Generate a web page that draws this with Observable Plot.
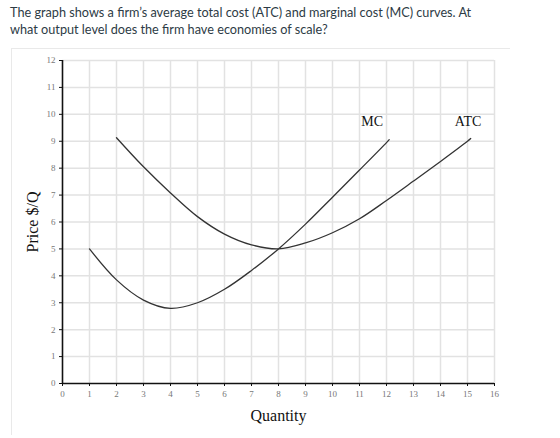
<!DOCTYPE html>
<html>
<head>
<meta charset="utf-8">
<script src="https://cdn.jsdelivr.net/npm/d3@7"></script>
<script src="https://cdn.jsdelivr.net/npm/@observablehq/plot@0.6"></script>
<style>
  html, body { margin: 0; padding: 0; background: #fff; }
  body { width: 560px; height: 438px; position: relative; overflow: hidden; }
  #q { position: absolute; left: 10px; top: 4px; font-family: Lato, sans-serif; font-size: 12.7px; line-height: 16.5px; color: #2d3b45; }
  #frame { position: absolute; left: 11px; top: 48px; width: 498px; height: 386px; border-top: 1px solid #e9e9e9; border-left: 1px solid #e9e9e9; }
  #chart { position: absolute; left: 0; top: 48px; }
</style>
</head>
<body>
<div id="q">The graph shows a firm’s average total cost (ATC) and marginal cost (MC) curves. At<br>what output level does the firm have economies of scale?</div>
<div id="frame"></div>
<div id="chart"></div>
<script>
// Marginal cost curve
const mcQ = [1, 2, 3, 4, 5, 6, 7, 8, 9, 10, 11, 12, 12.1];
const mcP = [5.0, 3.85, 3.1, 2.79, 3.0, 3.5, 4.2, 5.0, 5.92, 6.92, 7.93, 8.95, 9.06];
// Average total cost curve
const atcQ = [2, 3, 4, 5, 6, 7, 8, 9, 10, 11, 12, 13, 14, 15, 15.12];
const atcP = [9.13, 8.05, 7.08, 6.2, 5.55, 5.15, 5.0, 5.22, 5.6, 6.12, 6.8, 7.52, 8.25, 9.0, 9.1];
// Curve labels
const labelText = ["MC", "ATC"];
const labelQ = [11.47, 15.02];
const labelP = [9.55, 9.55];
// Ticks
const xTicks = d3.range(0, 17);
const yTicks = d3.range(0, 13);

const mc = mcQ.map((q, i) => ({q, p: mcP[i]}));
const atc = atcQ.map((q, i) => ({q, p: atcP[i]}));
const labels = labelText.map((t, i) => ({t, q: labelQ[i], p: labelP[i]}));
const serif = "Liberation Serif, Times New Roman, serif";

const chart = Plot.plot({
  width: 560,
  height: 390,
  marginTop: 12,
  marginLeft: 62,
  marginRight: 66,
  marginBottom: 55,
  style: {fontFamily: serif, background: "transparent"},
  x: {domain: [0, 16]},
  y: {domain: [0, 12]},
  marks: [
    Plot.gridX(xTicks.slice(1), {stroke: "#e2e2e2", strokeOpacity: 1, strokeWidth: 1.5}),
    Plot.gridY(yTicks.slice(1), {stroke: "#e2e2e2", strokeOpacity: 1, strokeWidth: 1.5}),
    Plot.axisX(xTicks, {tickSize: 3, tickPadding: 4, fontSize: 9, fontFamily: serif, stroke: "#111", fill: "#777", label: null}),
    Plot.axisY(yTicks, {tickSize: 3, tickPadding: 4, fontSize: 9, fontFamily: serif, stroke: "#111", fill: "#777", label: null}),
    Plot.ruleX([0], {stroke: "#111", strokeWidth: 1.6}),
    Plot.ruleY([0], {stroke: "#111", strokeWidth: 1.6}),
    Plot.line(mc, {x: "q", y: "p", curve: "catmull-rom", stroke: "#333", strokeWidth: 1.3}),
    Plot.line(atc, {x: "q", y: "p", curve: "catmull-rom", stroke: "#333", strokeWidth: 1.3}),
    Plot.text(labels, {x: "q", y: "p", text: "t", fontSize: 14, fontFamily: serif, fill: "#111", lineAnchor: "bottom"}),
    Plot.text(["Quantity"], {frameAnchor: "bottom", dy: 37, fontSize: 16, fontFamily: serif, fill: "#111", lineAnchor: "bottom"}),
    Plot.text(["Price $/Q"], {frameAnchor: "left", dx: -30, rotate: -90, fontSize: 16, fontFamily: serif, fill: "#111", textAnchor: "middle", lineAnchor: "middle"})
  ]
});
document.getElementById("chart").appendChild(chart);
</script>
</body>
</html>
